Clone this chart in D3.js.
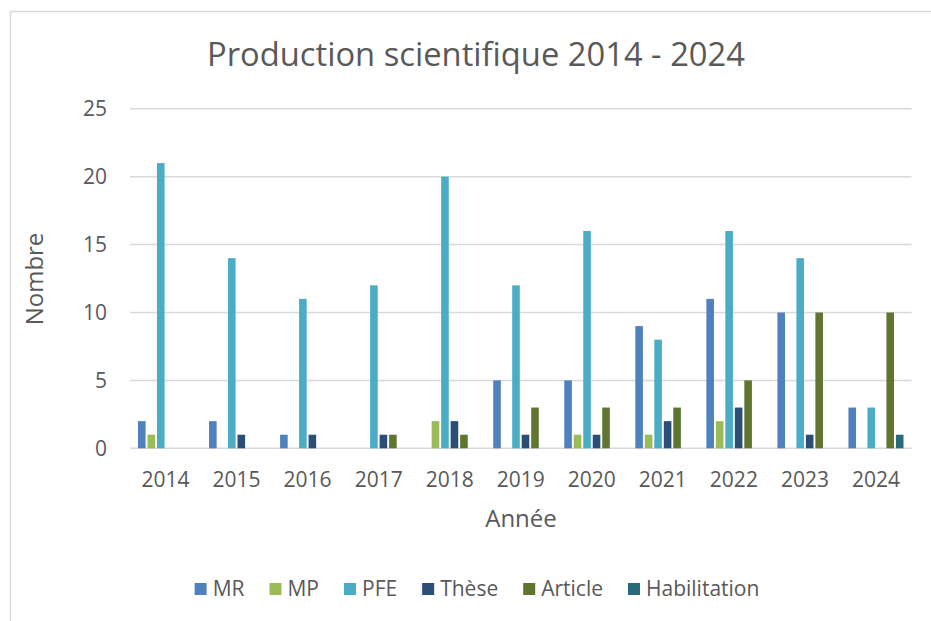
<!DOCTYPE html>
<html>
    <head>
        <meta charset="utf-8">
        <style type="text/css">
            body {
                margin: 0;
                background: #fff;
                font-family: "Open Sans", "Noto Sans", sans-serif;
            }
            .grid line {
                stroke: #d9d9d9;
                stroke-width: 1.5;
            }
            .tick-label {
                fill: #595959;
                font-size: 21px;
            }
            .caption {
                fill: #595959;
            }
        </style>
        <script src="https://d3js.org/d3.v7.min.js"></script>
    </head>
    <body>
        <svg width="931" height="621"></svg>
        <script>
            // Data
            let years  = ["2014", "2015", "2016", "2017", "2018", "2019", "2020", "2021", "2022", "2023", "2024"];
            let series = ["MR", "MP", "PFE", "Thèse", "Article", "Habilitation"];
            let colors = ["#4f81bd", "#9bbb59", "#4bacc6", "#2c4d75", "#5f7530", "#276a7c"];
            let mr      = [2, 2, 1, 0, 0, 5, 5, 9, 11, 10, 3];
            let mp      = [1, 0, 0, 0, 2, 0, 1, 1, 2, 0, 0];
            let pfe     = [21, 14, 11, 12, 20, 12, 16, 8, 16, 14, 3];
            let these   = [0, 1, 1, 1, 2, 1, 1, 2, 3, 1, 0];
            let article = [0, 0, 0, 1, 1, 3, 3, 3, 5, 10, 10];
            let habil   = [0, 0, 0, 0, 0, 0, 0, 0, 0, 0, 1];
            let yTicks  = [0, 5, 10, 15, 20, 25];

            let values = [mr, mp, pfe, these, article, habil];
            let rows = years.map((y, i) => ({year: y, vals: series.map((s, j) => ({key: s, color: colors[j], v: values[j][i]}))}));

            let svg = d3.select("svg");

            // chart frame (only left and top edges are visible)
            svg.append("path")
                .attr("d", "M10.5,621 V11.5 H931")
                .attr("fill", "none")
                .attr("stroke", "#d9d9d9")
                .attr("stroke-width", 1.5);

            let x = d3.scaleBand().domain(years).range([130, 911.5]);
            let xs = d3.scaleBand().domain(series).range([8, x.bandwidth() - 8]).paddingInner(0.2);
            let y = d3.scaleLinear().domain([0, 25]).range([448.3, 108.8]);

            // gridlines
            svg.append("g")
                .attr("class", "grid")
                .selectAll("line")
                .data(yTicks)
                .enter().append("line")
                    .attr("x1", 130).attr("x2", 911.5)
                    .attr("y1", d => y(d)).attr("y2", d => y(d));

            // y tick labels
            svg.append("g")
                .selectAll("text")
                .data(yTicks)
                .enter().append("text")
                    .attr("class", "tick-label")
                    .attr("x", 107)
                    .attr("y", d => y(d))
                    .attr("dy", "0.35em")
                    .attr("text-anchor", "end")
                    .text(d => d);

            // bars
            let groups = svg.append("g")
                .selectAll("g")
                .data(rows)
                .enter().append("g")
                    .attr("transform", d => "translate(" + x(d.year) + ",0)");
            groups.selectAll("rect")
                .data(d => d.vals.filter(e => e.v > 0))
                .enter().append("rect")
                    .attr("x", d => xs(d.key))
                    .attr("width", xs.bandwidth())
                    .attr("y", d => y(d.v))
                    .attr("height", d => y(0) - y(d.v))
                    .attr("fill", d => d.color);

            // x tick labels
            svg.append("g")
                .selectAll("text")
                .data(years)
                .enter().append("text")
                    .attr("class", "tick-label")
                    .attr("x", d => x(d) + x.bandwidth() / 2)
                    .attr("y", 487)
                    .attr("text-anchor", "middle")
                    .text(d => d);

            // titles
            let title = svg.append("text")
                .attr("class", "caption")
                .attr("x", 476)
                .attr("y", 66)
                .attr("text-anchor", "middle")
                .style("font-size", "32px")
                .text("Production scientifique 2014 - 2024");
            let tw = title.node().getComputedTextLength();
            title.style("font-size", (32 * 538 / tw).toFixed(2) + "px");

            svg.append("text")
                .attr("class", "caption")
                .attr("transform", "translate(43,279) rotate(-90)")
                .attr("text-anchor", "middle")
                .style("font-size", "24px")
                .text("Nombre");

            svg.append("text")
                .attr("class", "caption")
                .attr("x", 521)
                .attr("y", 527)
                .attr("text-anchor", "middle")
                .style("font-size", "24px")
                .text("Année");

            // legend
            let legend = svg.append("g");
            let lx = 0;
            series.forEach((s, i) => {
                let item = legend.append("g").attr("transform", "translate(" + lx + ",0)");
                item.append("rect")
                    .attr("x", 0).attr("y", -6)
                    .attr("width", 12).attr("height", 12)
                    .attr("fill", colors[i]);
                let t = item.append("text")
                    .attr("class", "tick-label")
                    .attr("x", 18)
                    .attr("dy", "0.35em")
                    .text(s);
                lx += 18 + t.node().getComputedTextLength() + 25;
            });
            let lw = lx - 25;
            legend.attr("transform", "translate(" + (477 - lw / 2) + ",589)");
        </script>
    </body>
</html>
